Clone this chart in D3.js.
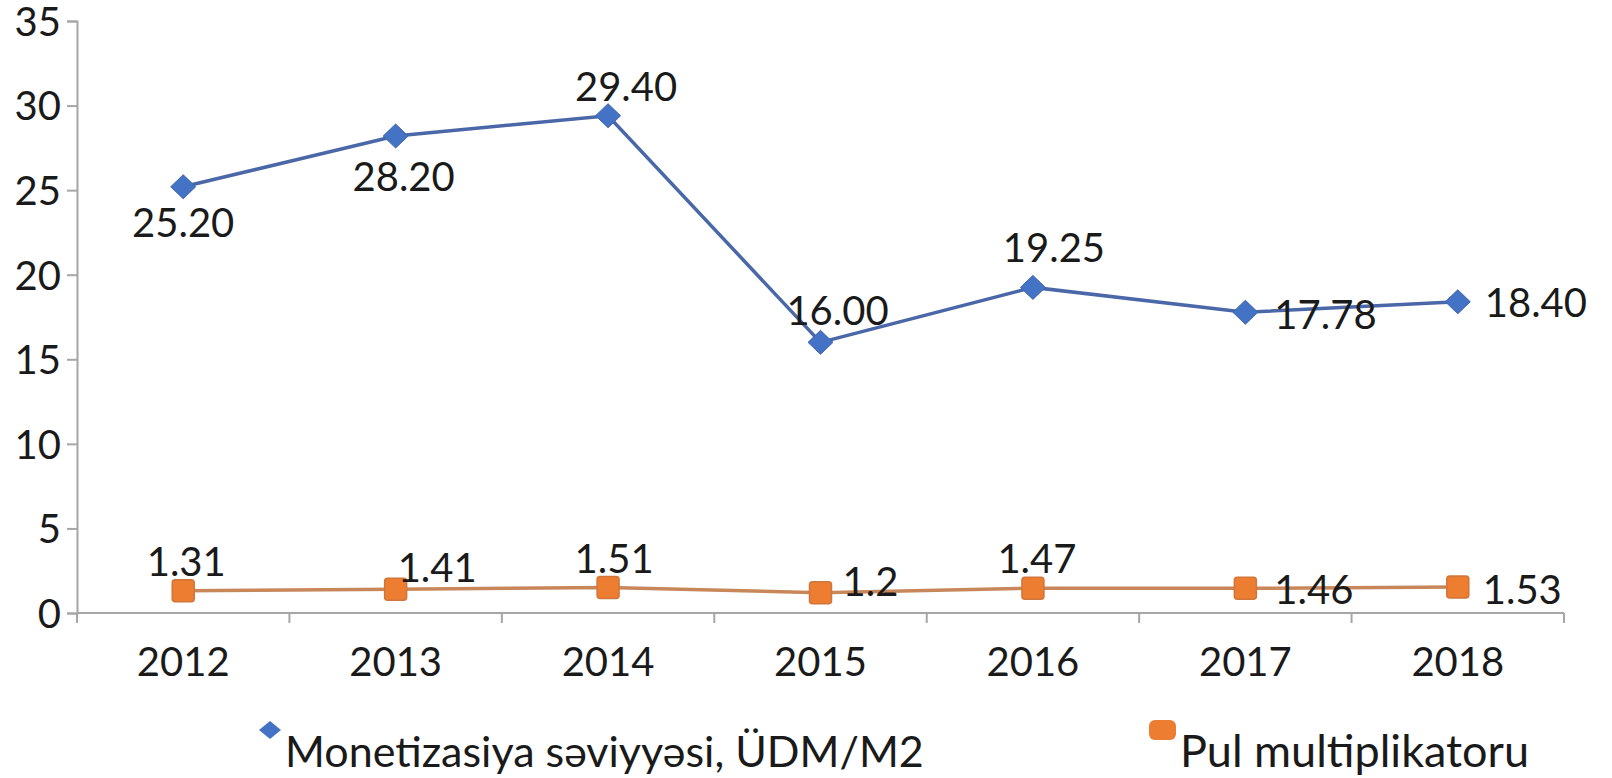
<!DOCTYPE html>
<html>
<head>
<meta charset="utf-8">
<script src="https://cdn.jsdelivr.net/npm/d3@7"></script>
<style>
  body { margin: 0; background: #fff; }
  text { font-family: Lato, "Open Sans", sans-serif; fill: #1a1a1a; }
</style>
</head>
<body>
<svg width="1612" height="778"></svg>
<script>
// data
var years = ["2012", "2013", "2014", "2015", "2016", "2017", "2018"];
var monetization = [25.20, 28.20, 29.40, 16.00, 19.25, 17.78, 18.40];
var monetizationText = ["25.20", "28.20", "29.40", "16.00", "19.25", "17.78", "18.40"];
var multiplier = [1.31, 1.41, 1.51, 1.2, 1.47, 1.46, 1.53];
var multiplierText = ["1.31", "1.41", "1.51", "1.2", "1.47", "1.46", "1.53"];
var yTicks = [0, 5, 10, 15, 20, 25, 30, 35];
var seriesNames = ["Monetizasiya səviyyəsi, ÜDM/M2", "Pul multiplikatoru"];

// where each data label sits relative to its point [dx, dy, anchor]
var blueLabelPos = [[0, 50, "middle"], [8, 55, "middle"], [18, -15, "middle"], [17, -17, "middle"],
                    [21, -25, "middle"], [29, 17, "start"], [27, 15, "start"]];
var orangeLabelPos = [[3, -15, "middle"], [2, -7, "start"], [6, -14, "middle"], [22, 3, "start"],
                      [4, -15, "middle"], [29, 16, "start"], [25, 17, "start"]];

var svg = d3.select("svg");

var x = d3.scaleBand().domain(years).range([77, 1564]);
var y = d3.scaleLinear().domain([0, 35]).range([613, 21]);

var axisColor = "#a6a6a6";
var fontSize = 40;

// y axis
var yAxis = svg.append("g")
    .attr("transform", "translate(77,0)")
    .call(d3.axisLeft(y).tickValues(yTicks).tickSize(10).tickPadding(6));
yAxis.select(".domain").attr("stroke", axisColor).attr("stroke-width", 2);
yAxis.selectAll(".tick line").attr("stroke", axisColor).attr("stroke-width", 2);
yAxis.selectAll(".tick text")
    .attr("font-size", fontSize)
    .attr("fill", "#1a1a1a")
    .style("font-family", "Lato, 'Open Sans', sans-serif")
    .attr("dy", "0.36em");

// x axis with ticks at band boundaries
var xAxis = svg.append("g").attr("transform", "translate(0,613)");
xAxis.append("line")
    .attr("x1", x.range()[0]).attr("x2", x.range()[1])
    .attr("stroke", axisColor).attr("stroke-width", 2);
var bounds = years.map(function(d) { return x(d); }).concat([x.range()[1]]);
xAxis.selectAll(".tk").data(bounds).enter().append("line")
    .attr("x1", function(d) { return d; }).attr("x2", function(d) { return d; })
    .attr("y1", 0).attr("y2", 10)
    .attr("stroke", axisColor).attr("stroke-width", 2);
xAxis.selectAll(".lbl").data(years).enter().append("text")
    .attr("x", function(d) { return x(d) + x.bandwidth() / 2; })
    .attr("y", 63)
    .attr("text-anchor", "middle")
    .attr("font-size", fontSize)
    .text(function(d) { return d; });

function cx(i) { return x(years[i]) + x.bandwidth() / 2; }

var line = d3.line()
    .x(function(d, i) { return cx(i); })
    .y(function(d) { return y(d); });

// orange series
svg.append("path")
    .datum(multiplier)
    .attr("d", line)
    .attr("fill", "none")
    .attr("stroke", "#c8875a")
    .attr("stroke-width", 3.5);

svg.selectAll(".sq").data(multiplier).enter().append("rect")
    .attr("x", function(d, i) { return cx(i) - 11; })
    .attr("y", function(d) { return y(d) - 11; })
    .attr("width", 22).attr("height", 22)
    .attr("rx", 3)
    .attr("fill", "#ed7d31")
    .attr("stroke", "#d0763a")
    .attr("stroke-width", 1.5);

// blue series
svg.append("path")
    .datum(monetization)
    .attr("d", line)
    .attr("fill", "none")
    .attr("stroke", "#4a67a8")
    .attr("stroke-width", 3.5);

var diamond = "M0,-12L12.5,0L0,12L-12.5,0Z";
svg.selectAll(".dm").data(monetization).enter().append("path")
    .attr("d", diamond)
    .attr("transform", function(d, i) { return "translate(" + cx(i) + "," + y(d) + ")"; })
    .attr("fill", "#4472c4")
    .attr("stroke", "#3f66b0")
    .attr("stroke-width", 1);

// data labels
svg.selectAll(".bl").data(monetization).enter().append("text")
    .attr("x", function(d, i) { return cx(i) + blueLabelPos[i][0]; })
    .attr("y", function(d, i) { return y(d) + blueLabelPos[i][1]; })
    .attr("text-anchor", function(d, i) { return blueLabelPos[i][2]; })
    .attr("font-size", fontSize)
    .text(function(d, i) { return monetizationText[i]; });

svg.selectAll(".ol").data(multiplier).enter().append("text")
    .attr("x", function(d, i) { return cx(i) + orangeLabelPos[i][0]; })
    .attr("y", function(d, i) { return y(d) + orangeLabelPos[i][1]; })
    .attr("text-anchor", function(d, i) { return orangeLabelPos[i][2]; })
    .attr("font-size", fontSize)
    .text(function(d, i) { return multiplierText[i]; });

// legend
var legend = svg.append("g");
legend.append("path")
    .attr("d", "M0,-9L11,0L0,9L-11,0Z")
    .attr("transform", "translate(270,730)")
    .attr("fill", "#4472c4");
legend.append("text")
    .attr("x", 285).attr("y", 767)
    .attr("font-size", 43)
    .text(seriesNames[0]);
legend.append("rect")
    .attr("x", 1149).attr("y", 720).attr("width", 27).attr("height", 20).attr("rx", 6)
    .attr("fill", "#ed7d31");
legend.append("text")
    .attr("x", 1180).attr("y", 767)
    .attr("font-size", 45)
    .text(seriesNames[1]);
</script>
</body>
</html>
